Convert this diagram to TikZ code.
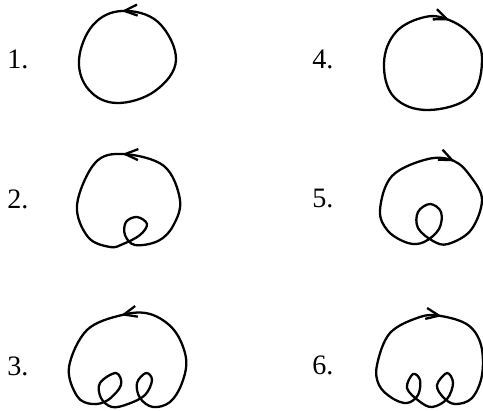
\documentclass[tikz,border=0pt]{standalone}
\usepackage{fontspec}
\setmainfont{Liberation Serif}
\usetikzlibrary{arrows.meta,decorations.markings}

\begin{document}
\begin{tikzpicture}[
    x=0.02cm, y=-0.02cm,
    curve/.style={line width=1.3pt, line join=round, postaction={decorate},
      decoration={markings, mark=at position 0.002 with
        {\arrow{Straight Barb[length=2.6mm, width=2.2mm]}}}},
    num/.style={anchor=base west, inner sep=0pt, font=\fontsize{16}{16}\selectfont}
  ]
  \useasboundingbox (0,0) rectangle (483,410);
  % Labels
  \node[num] (l1) at (7,68) {1.};
  \node[num] (l2) at (7,208) {2.};
  \node[num] (l3) at (7,375) {3.};
  \node[num] (l4) at (312,68) {4.};
  \node[num] (l5) at (312,207) {5.};
  \node[num] (l6) at (312,374) {6.};
  % left column, counterclockwise (arrow sits on the 2nd point)
  \draw[curve] plot[smooth cycle, tension=0.65] coordinates {
    (158,22) (122,11) (93,25) (79,60) (89,90) (117,103) (155,91) (176,60)};
  \draw[curve] plot[smooth cycle, tension=0.6] coordinates {
    (164,166) (123,154) (95,163) (77,205) (88,237) (110,247) (123,244)
    (140,235) (147,224) (137,217) (126,222) (125,235) (135,245)
    (158,241) (173,226) (180,200)};
  \draw[curve] plot[smooth cycle, tension=0.6] coordinates {
    (150,314) (122,315) (87,330) (69,367) (77,396) (92,404) (108,400)
    (121,385) (116,373) (100,383) (101,398) (112,407) (128,404)
    (145,395) (152,380) (146,373) (137,383) (140,398) (153,407)
    (170,402) (182,383) (186,358) (174,330)};
  % right column, clockwise
  \draw[curve] plot[smooth cycle, tension=0.65] coordinates {
    (425,17) (449,20) (471,35) (482,58) (471,96) (428,110) (394,97)
    (384,63) (396,32)};
  \draw[curve] plot[smooth cycle, tension=0.6] coordinates {
    (428,159) (454,161) (471,177) (482,200) (471,230) (448,244)
    (433,241) (418,228) (418,212) (430,204) (441,212) (439,229)
    (424,242) (408,243) (388,231) (380,210) (392,176)};
  \draw[curve] plot[smooth cycle, tension=0.6] coordinates {
    (420,317) (441,316) (468,325) (481,345) (482,375) (472,398)
    (455,404) (443,397) (437,385) (447,373) (453,383) (447,399)
    (432,407) (419,401) (407,388) (413,374) (420,380) (418,395)
    (407,403) (392,398) (379,385) (377,365) (390,333)};
\end{tikzpicture}
\end{document}
